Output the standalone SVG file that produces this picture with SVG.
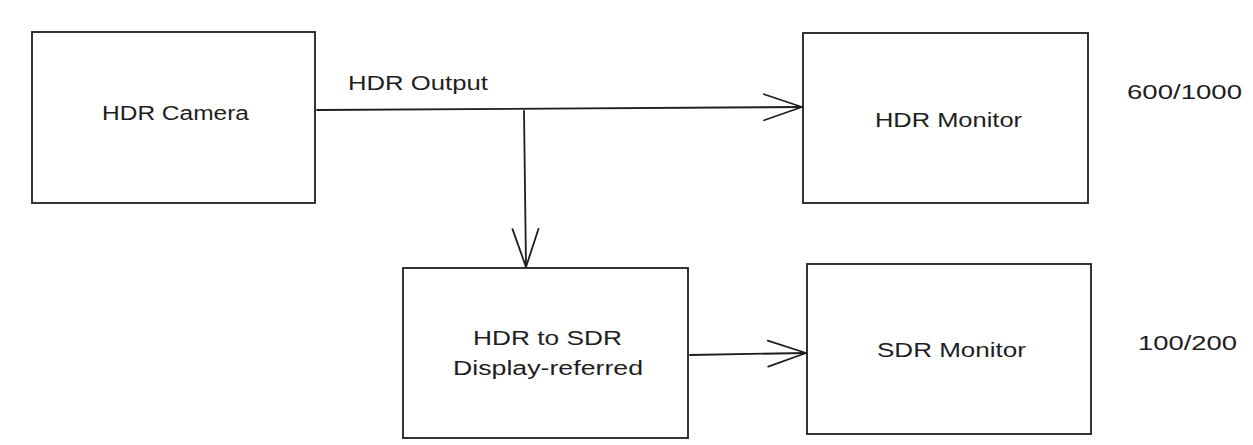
<svg xmlns="http://www.w3.org/2000/svg" width="1253" height="445" viewBox="0 0 1253 445">
<style>
.box{fill:#fff;stroke:#1e1e1e;stroke-width:1.8}
.t{font-family:"Liberation Sans",Arial,sans-serif;font-size:20px;fill:#1e1e1e;text-anchor:middle}
.c{fill:none;stroke:#1e1e1e;stroke-width:1.8;stroke-linecap:round}
</style>
<defs>
<marker id="ah" viewBox="-40 -15 42 30" markerWidth="42" markerHeight="30" refX="0" refY="0" markerUnits="userSpaceOnUse" orient="auto">
<path d="M-38,-13 L0,0 L-38,13" fill="none" stroke="#1e1e1e" stroke-width="1.8" stroke-linecap="round" stroke-linejoin="round"/>
</marker>
</defs>
<rect width="1253" height="445" fill="#fff"/>
<g id="camera">
<rect class="box" x="32" y="32" width="283" height="171"/>
<text class="t" x="175.5" y="120" textLength="147" lengthAdjust="spacingAndGlyphs">HDR Camera</text>
</g>
<g id="hdr-monitor">
<rect class="box" x="803" y="33" width="285" height="170"/>
<text class="t" x="948.5" y="127" textLength="147" lengthAdjust="spacingAndGlyphs">HDR Monitor</text>
</g>
<g id="converter">
<rect class="box" x="403" y="268" width="285" height="170"/>
<text class="t" x="547.5" y="345" textLength="149" lengthAdjust="spacingAndGlyphs">HDR to SDR</text>
<text class="t" x="548" y="375" textLength="190" lengthAdjust="spacingAndGlyphs">Display-referred</text>
</g>
<g id="sdr-monitor">
<rect class="box" x="807" y="264" width="284" height="170"/>
<text class="t" x="951.5" y="357" textLength="149" lengthAdjust="spacingAndGlyphs">SDR Monitor</text>
</g>
<g id="labels">
<text class="t" x="1184.5" y="99" textLength="115" lengthAdjust="spacingAndGlyphs">600/1000</text>
<text class="t" x="1187.5" y="350" textLength="99" lengthAdjust="spacingAndGlyphs">100/200</text>
</g>
<g id="connectors">
<path class="c" d="M317,110 L802,107" marker-end="url(#ah)"/>
<text class="t" x="418" y="90" textLength="140" lengthAdjust="spacingAndGlyphs">HDR Output</text>
<path class="c" d="M524,111 L526,267" marker-end="url(#ah)"/>
<path class="c" d="M690,355 L806,353" marker-end="url(#ah)"/>
</g>
</svg>
